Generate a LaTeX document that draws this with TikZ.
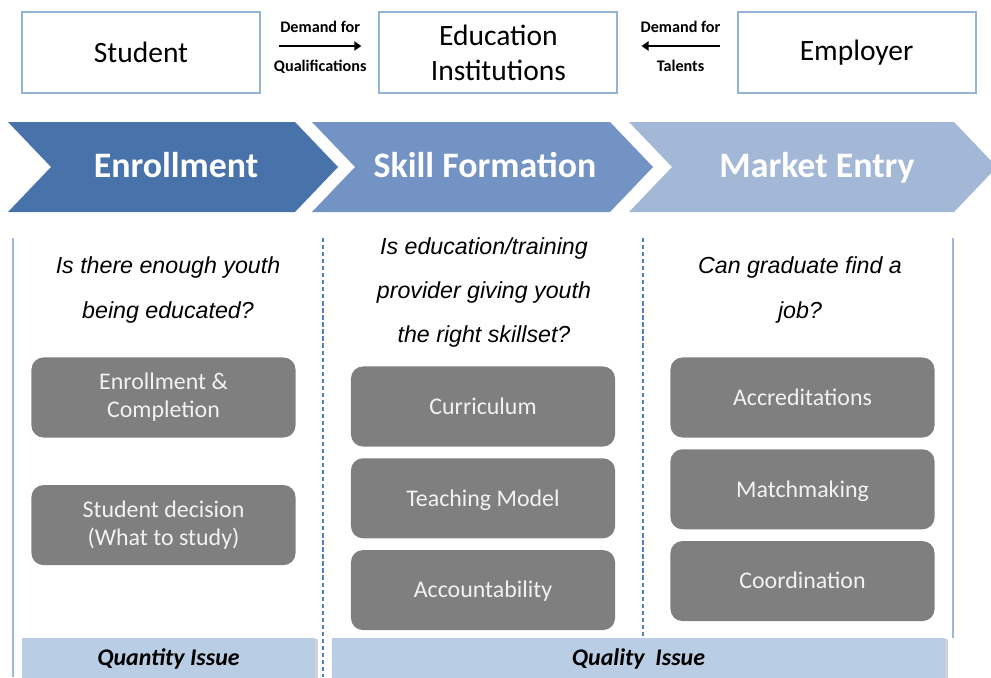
\documentclass[tikz,border=0pt]{standalone}
\usepackage{fontspec}
\setmainfont{Carlito}
\newfontfamily\qfont{Liberation Sans}
\usetikzlibrary{arrows.meta, positioning, shadows}
\definecolor{boxline}{HTML}{95B3D7}
\definecolor{chevA}{HTML}{4872AA}
\definecolor{chevB}{HTML}{7293C3}
\definecolor{chevC}{HTML}{A3B7D6}
\definecolor{sideline}{HTML}{9DB9DE}
\definecolor{dashblue}{HTML}{4F81BD}
\definecolor{itemgray}{HTML}{7F7F7F}
\definecolor{itemtext}{HTML}{F2F2F2}
\definecolor{barblue}{HTML}{B9CDE5}

\begin{document}
\begin{tikzpicture}[x=0.025cm, y=-0.025cm,
  actor/.style={rectangle,draw=boxline,line width=1.5pt,fill=white,minimum width=5.95cm,minimum height=2.025cm,font=\fontsize{21}{25}\selectfont,align=center,inner sep=2pt},
  demand/.style={font=\bfseries\fontsize{11.5}{13}\selectfont,inner sep=1pt},
  arr/.style={-{Triangle[length=5pt,width=6.5pt]},line width=1.8pt},
  stage/.style={font=\bfseries\fontsize{25.5}{30}\selectfont,text=white,text height=17pt,text depth=0.6pt},
  question/.style={font=\qfont\itshape\fontsize{16.5}{31.3}\selectfont,align=center},
  item/.style={rectangle,rounded corners=0.3cm,fill=itemgray,text=itemtext,minimum width=6.6cm,minimum height=2cm,font=\fontsize{17}{20}\selectfont,align=center},
  one/.style={text height=12.5pt,text depth=1.5pt},
  issue/.style={rectangle,fill=barblue,minimum height=1.05cm,font=\bfseries\itshape\fontsize{17}{20}\selectfont,drop shadow={shadow xshift=2pt,shadow yshift=-1pt,opacity=0.35}},
  sep/.style={dashblue,line width=1.3pt,dash pattern=on 3pt off 2pt}
]
\useasboundingbox (0,0) rectangle (991,677);

% actors
\node[actor] (stu) at (141,52.5) {Student};
\node[actor, right=2.93cm of stu] (edu) {Education\\Institutions};
\node[actor, right=2.95cm of edu] (emp) {Employer};
\draw[arr] ([shift={(18,-6.5)}]stu.east) -- ([shift={(-17,-6.5)}]edu.west)
  node[demand, midway, above=0.28cm] {Demand for}
  node[demand, midway, below=0.28cm] {Qualifications};
\draw[arr] ([shift={(-17,-6.5)}]emp.west) -- ([shift={(23,-6.5)}]edu.east)
  node[demand, midway, above=0.28cm] {Demand for}
  node[demand, midway, below=0.28cm] {Talents};

% stages
\fill[chevA] (8,122) -- (295,122) -- (338,167) -- (295,212) -- (8,212) -- (51,167) -- cycle;
\fill[chevB] (312,122) -- (610,122) -- (653,167) -- (610,212) -- (312,212) -- (355,167) -- cycle;
\fill[chevC] (629,122) -- (954,122) -- (997,167) -- (954,212) -- (629,212) -- (672,167) -- cycle;
\node[stage] (enr) at (176,166) {Enrollment};
\node[stage] (skf) at (485,166) {Skill Formation};
\node[stage] (mke) at (817,166) {Market Entry};

% columns
\draw[sideline, line width=2pt] (13,238) -- (13,677);
\draw[sideline, line width=2pt] (953,238) -- (953,638);
\draw[sep] (323,238) -- (323,677);
\draw[sep] (643,238) -- (643,638);

\node[question] (q1) at (168,290) {Is there enough youth\\being educated?};
\node[question] (q2) at (484,292.5) {Is education/training\\provider giving youth\\the right skillset?};
\node[question] (q3) at (800,290) {Can graduate find a\\job?};

\node[item] (enc) at (163.5,397.5) {Enrollment \&\\Completion};
\node[item, below=1.175cm of enc] (dec) {Student decision\\(What to study)};
\node[item, one] (cur) at (483,406.5) {Curriculum};
\node[item, one, below=0.28cm of cur] (tea) {Teaching Model};
\node[item, one, below=0.28cm of tea] (acc) {Accountability};
\node[item, one] (accr) at (802.5,397.5) {Accreditations};
\node[item, one, below=0.28cm of accr] (mat) {Matchmaking};
\node[item, one, below=0.28cm of mat] (coo) {Coordination};

% issues
\node[issue, minimum width=7.325cm] (qty) at (168.5,659) {Quantity Issue};
\node[issue, minimum width=15.325cm] (qly) at (638.5,659) {Quality~ Issue};
\end{tikzpicture}
\end{document}
